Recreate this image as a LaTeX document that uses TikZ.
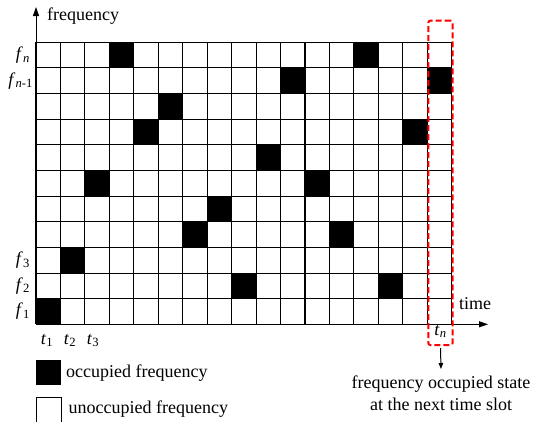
\documentclass[tikz,border=0pt]{standalone}
\usepackage{fontspec}
\setmainfont{Liberation Serif}
\usetikzlibrary{arrows.meta}
\begin{document}
\begin{tikzpicture}[x=1pt,y=-1pt,
  lbl/.style={font=\fontsize{18}{22}\selectfont, inner sep=0pt},
  gridline/.style={line width=1.1pt},
  axis/.style={line width=1pt, -{Triangle[length=9pt,width=6pt]}},
  occ/.style={fill=black},
  legbox/.style={minimum width=24.5pt, minimum height=25pt, inner sep=0pt, anchor=north west},
  redbox/.style={draw=red, line width=2pt, dash pattern=on 6pt off 3pt, rounded corners=2pt,
                 minimum width=24.4pt, minimum height=324.3pt, inner sep=0pt}]
\useasboundingbox (0,0) rectangle (533,421);
% occupied cells
\foreach \c/\r in {4/1,14/1,11/2,17/2,6/3,5/4,16/4,10/5,3/6,12/6,8/7,7/8,13/8,2/9,9/10,15/10,1/11}
  \fill[occ] ({36+(\c-1)*24.45},{42.3+(\r-1)*25.64}) rectangle ++(24.45,25.64);
% grid
\foreach \i in {0,...,17}
  \draw[gridline] ({36+\i*24.45},42.3) -- ++(0,282);
\foreach \j in {0,...,11}
  \draw[gridline] (36,{42.3+\j*25.64}) -- ++(415.65,0);
% axes
\coordinate (O) at (36,324.3);
\coordinate (ytip) at (36,7);
\coordinate (xtip) at (488,324.3);
\draw[axis] (O) -- (ytip);
\draw[axis] (O) -- (xtip);
\node[lbl, anchor=west] (flab) at (47,16) {frequency};
\node[lbl, anchor=base west] (tlab) at (459,309) {time};
% frequency labels
\node[lbl, anchor=east] (fn) at (30,55.1) {\textit{f}\textsubscript{\textit{n}}};
\node[lbl, anchor=east] (fn1) at (33,80.8) {\textit{f}\textsubscript{\textit{n}-1}};
\node[lbl, anchor=east] (f3) at (30,260.2) {\textit{f}\textsubscript{3}};
\node[lbl, anchor=east] (f2) at (30,285.8) {\textit{f}\textsubscript{2}};
\node[lbl, anchor=east] (f1) at (30,311.5) {\textit{f}\textsubscript{1}};
% time labels
\node[lbl, anchor=base] (t1) at (47,344) {\textit{t}\textsubscript{1}};
\node[lbl, anchor=base] (t2) at (70,344) {\textit{t}\textsubscript{2}};
\node[lbl, anchor=base] (t3) at (93,344) {\textit{t}\textsubscript{3}};
% red box
\node[redbox] (box) at (440.5,182.85) {};
\node[lbl, anchor=base] (tn) at (440.5,335) {\textit{t}\textsubscript{\textit{n}}};
% note
\node[lbl, anchor=north, align=center] (note) at (441,376)
  {frequency occupied state\\at the next time slot};
\draw[line width=1pt, -{Triangle[length=6pt,width=4.5pt]}] ([yshift=-2pt]box.south) -- ([yshift=7pt]note.north);
% legend
\node[legbox, fill=black] (lk1) at (36,360) {};
\node[lbl, anchor=west] (lt1) at ([xshift=5pt]lk1.east) {occupied frequency};
\node[legbox, draw=black, line width=1pt] (lk2) at (36,396.5) {};
\node[lbl, anchor=west] (lt2) at ([xshift=7pt]lk2.east) {unoccupied frequency};
\end{tikzpicture}
\end{document}
